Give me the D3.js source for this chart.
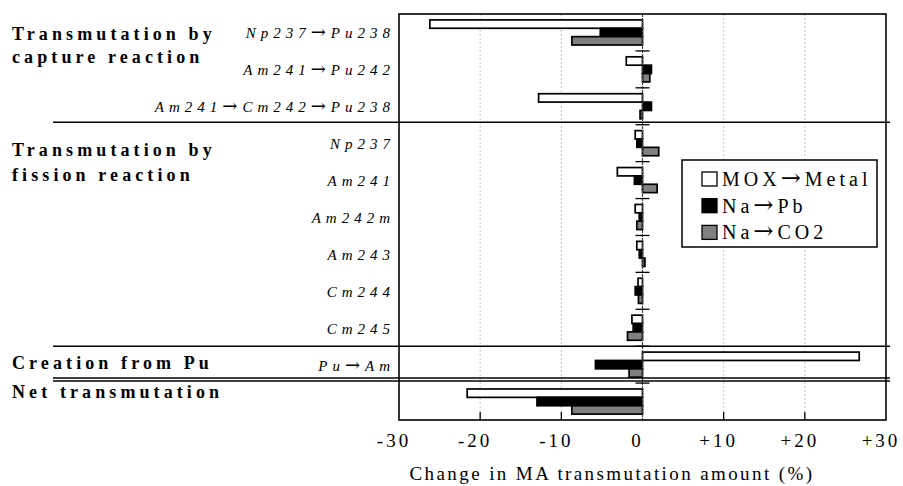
<!DOCTYPE html>
<html>
<head>
<meta charset="utf-8">
<script src="https://cdn.jsdelivr.net/npm/d3@7"></script>
<style>
  body { margin: 0; background: #fff; }
  svg text { font-family: "Liberation Serif", "Times New Roman", serif; fill: #000; }
  svg tspan.arrow { font-family: "DejaVu Serif", serif; font-style: normal; font-size: 1.2em; }
</style>
</head>
<body>
<div id="chart"></div>
<script>
// rows, top to bottom (last row = net transmutation, no label)
var categories = ["Np237→Pu238", "Am241→Pu242", "Am241→Cm242→Pu238",
  "Np237", "Am241", "Am242m", "Am243", "Cm244", "Cm245",
  "Pu→Am", "Net"];
var categoryLabels = ["Np237→Pu238", "Am241→Pu242", "Am241→Cm242→Pu238",
  "Np237", "Am241", "Am242m", "Am243", "Cm244", "Cm245",
  "Pu→Am", ""];
var seriesNames = ["MOX→Metal", "Na→Pb", "Na→CO2"];
var moxToMetal = [-26.2, -2.0, -12.8, -0.9, -3.1, -0.9, -0.7, -0.55, -1.3, 26.7, -21.6];
var naToPb     = [-5.2, 1.1, 1.1, -0.7, -1.0, -0.4, -0.4, -0.9, -1.15, -5.8, -13.0];
var naToCo2    = [-8.7, 0.9, -0.3, 2.0, 1.8, -0.7, 0.3, -0.5, -1.85, -1.65, -8.7];
var groupTitles = [["Transmutation by", "capture reaction"], ["Transmutation by", "fission reaction"],
  ["Creation from Pu"], ["Net transmutation"]];
var groupSizes = [3, 6, 1, 1];
var xTicks = [-30, -20, -10, 0, 10, 20, 30];
var xTickLabels = ["-30", "-20", "-10", "0", "+10", "+20", "+30"];
var xTitle = "Change in MA transmutation amount (%)";

var width = 903, height = 486;
var pLeft = 399, pRight = 886, pTop = 14, pBottom = 420;
var fills = ["#ffffff", "#000000", "#808080"];

var svg = d3.select("#chart").append("svg")
  .attr("width", width)
  .attr("height", height);

svg.append("rect").attr("width", width).attr("height", height).attr("fill", "#fff");

var x = d3.scaleLinear().domain([-30, 30]).range([pLeft, pRight]);
var y = d3.scaleBand().domain(categories).range([pTop, pBottom])
  .paddingInner(0.32).paddingOuter(0.16);
var ySeries = d3.scaleBand().domain(seriesNames).range([0, y.bandwidth()]);
var step = y.step();

var rows = categories.map(function(c, i) {
  return { cat: c, values: [moxToMetal[i], naToPb[i], naToCo2[i]] };
});

// put arrows in a font that draws a long arrow
function arrowText(sel, s) {
  var parts = s.split("→");
  parts.forEach(function(p, i) {
    if (i > 0) sel.append("tspan").attr("class", "arrow").text("→");
    sel.append("tspan").text(p);
  });
}

// grid lines
var inner = xTicks.filter(function(d) { return d != 0 && Math.abs(d) != 30; });
svg.append("g").selectAll("line")
  .data(inner)
  .enter().append("line")
  .attr("x1", function(d) { return x(d); })
  .attr("x2", function(d) { return x(d); })
  .attr("y1", pTop).attr("y2", pBottom)
  .attr("stroke", "#c4c4c4")
  .attr("stroke-dasharray", "2,2");

// bars
var g = svg.append("g").selectAll("g")
  .data(rows)
  .enter().append("g")
  .attr("transform", function(d) { return "translate(0," + y(d.cat) + ")"; });

g.selectAll("rect")
  .data(function(d) { return d.values.map(function(v, j) { return { v: v, s: seriesNames[j], j: j }; }); })
  .enter().append("rect")
  .attr("x", function(d) { return x(Math.min(0, d.v)); })
  .attr("width", function(d) { return Math.abs(x(d.v) - x(0)); })
  .attr("y", function(d) { return ySeries(d.s); })
  .attr("height", ySeries.bandwidth())
  .attr("fill", function(d) { return fills[d.j]; })
  .attr("stroke", "#000")
  .attr("stroke-width", 1.7);

// zero line
svg.append("line")
  .attr("x1", x(0)).attr("x2", x(0))
  .attr("y1", pTop).attr("y2", pBottom)
  .attr("stroke", "#444")
  .attr("stroke-width", 1.2)
  .attr("stroke-dasharray", "3,1");

// category ticks crossing the zero line
svg.append("g").selectAll("line")
  .data(d3.range(1, categories.length))
  .enter().append("line")
  .attr("x1", x(0) - 7).attr("x2", x(0) + 7)
  .attr("y1", function(i) { return pTop + i * step; })
  .attr("y2", function(i) { return pTop + i * step; })
  .attr("stroke", "#000")
  .attr("stroke-width", 1.3);

// inner ticks on the bottom
svg.append("g").selectAll("line")
  .data(inner)
  .enter().append("line")
  .attr("x1", function(d) { return x(d); })
  .attr("x2", function(d) { return x(d); })
  .attr("y1", pBottom).attr("y2", pBottom - 8)
  .attr("stroke", "#000")
  .attr("stroke-width", 1.3);

// frame
svg.append("rect")
  .attr("x", pLeft).attr("y", pTop)
  .attr("width", pRight - pLeft).attr("height", pBottom - pTop)
  .attr("fill", "none")
  .attr("stroke", "#000")
  .attr("stroke-width", 1.6);

// category labels
svg.append("g").selectAll("text")
  .data(categories)
  .enter().append("text")
  .attr("x", pLeft - 4)
  .attr("y", function(d) { return y(d) + y.bandwidth() / 2 + 6; })
  .attr("text-anchor", "end")
  .style("font-size", "15px")
  .style("font-style", "italic")
  .style("letter-spacing", "5px")
  .each(function(d, i) { arrowText(d3.select(this), categoryLabels[i]); });

// group separators and titles
var start = 0;
var sepOffsets = [-2.5, 0, -5];
groupTitles.forEach(function(lines, k) {
  var yTop = pTop + start * step;
  var t = svg.append("text")
    .style("font-size", "18px")
    .style("font-weight", "bold")
    .style("letter-spacing", "4.1px");
  var baseY = yTop + 26;
  var lineGap = 23;
  if (k == 1) { baseY = yTop + 31; lineGap = 25; }
  if (k == 2) baseY = yTop + 23;
  if (k == 3) baseY = yTop + 15;
  lines.forEach(function(l, li) {
    t.append("tspan").attr("x", 12).attr("y", baseY + li * lineGap).text(l);
  });
  if (k > 0) {
    var ly = yTop + sepOffsets[k - 1];
    svg.append("line")
      .attr("x1", 53).attr("x2", pRight + 4)
      .attr("y1", ly).attr("y2", ly)
      .attr("stroke", "#000").attr("stroke-width", 1.5);
    if (k == 3) {
      svg.append("line")
        .attr("x1", 53).attr("x2", pRight + 4)
        .attr("y1", ly + 3).attr("y2", ly + 3)
        .attr("stroke", "#000").attr("stroke-width", 1.5);
    }
  }
  start += groupSizes[k];
});

// x tick labels
svg.append("g").selectAll("text")
  .data(xTicks)
  .enter().append("text")
  .attr("x", function(d) { return x(d); })
  .attr("dx", -5)
  .attr("y", 447)
  .attr("text-anchor", "middle")
  .style("font-size", "19px")
  .style("letter-spacing", "3px")
  .text(function(d, i) { return xTickLabels[i]; });

svg.append("text")
  .attr("x", 612)
  .attr("y", 480)
  .attr("text-anchor", "middle")
  .style("font-size", "19px")
  .style("letter-spacing", "2.4px")
  .text(xTitle);

// legend
var legend = svg.append("g").attr("transform", "translate(682,160)");
legend.append("rect")
  .attr("width", 195).attr("height", 87)
  .attr("fill", "#fff")
  .attr("stroke", "#000")
  .attr("stroke-width", 1.5);
var item = legend.selectAll("g.item")
  .data(seriesNames)
  .enter().append("g")
  .attr("class", "item")
  .attr("transform", function(d, i) { return "translate(20," + (19 + i * 26.7) + ")"; });
item.append("rect")
  .attr("x", 0).attr("y", -7)
  .attr("width", 15).attr("height", 14)
  .attr("fill", function(d, i) { return fills[i]; })
  .attr("stroke", "#000")
  .attr("stroke-width", 1.3);
item.append("text")
  .attr("x", 20).attr("y", 7)
  .style("font-size", "20px")
  .style("letter-spacing", "4px")
  .each(function(d) { arrowText(d3.select(this), d); });
</script>
</body>
</html>
